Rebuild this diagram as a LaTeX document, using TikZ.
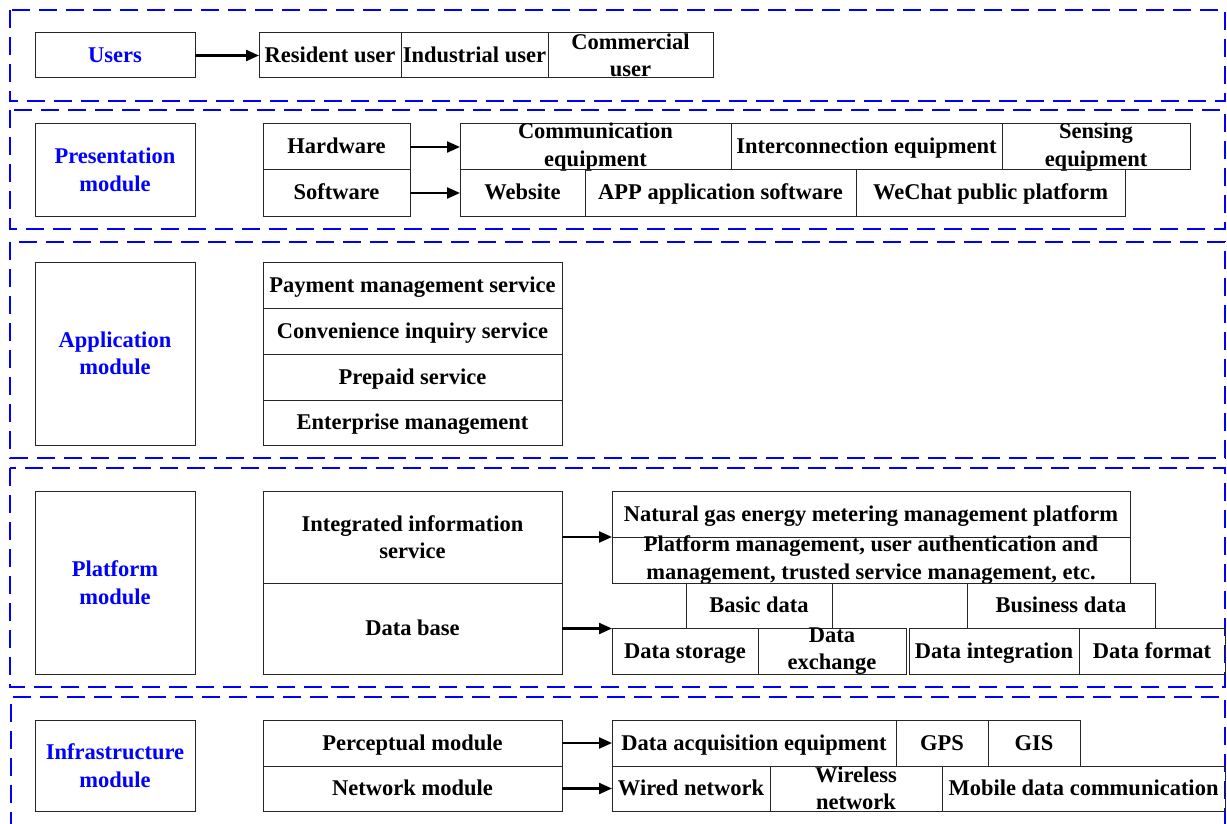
\documentclass[tikz,border=0pt]{standalone}
\usepackage{fontspec}
\setmainfont{Liberation Serif}
\usepackage{tikz}
\usetikzlibrary{arrows.meta}

\begin{document}
\begin{tikzpicture}[x=1pt, y=-1pt,
  every node/.style={outer sep=0pt, inner sep=0pt, align=center, font=\fontsize{22.5}{27.5}\selectfont\bfseries},
  cellml/.style={draw=black!85, line width=1pt, inner ysep=-6pt},
  cell/.style={cellml, text height=16pt, text depth=2pt},
  modbox/.style={cellml, text=blue, minimum width=160pt},
  layer/.style={draw=blue, line width=2.4pt, dash pattern=on 18pt off 9pt},
  link/.style={line width=2.2pt, -{Triangle[length=13pt, width=11pt]}}]
\useasboundingbox[fill=white] (0,0) rectangle (1227,824);

% layers
\draw[layer] (10,10) rectangle (1225,101);
\draw[layer] (10,110) rectangle (1225,229);
\draw[layer] (10,242) rectangle (1225,458);
\draw[layer] (10,468) rectangle (1225,687);
\draw[layer] (11,830) -- (11,697) -- (1225,697) -- (1225,830);

% users
\node[modbox, text height=16pt, text depth=2pt, minimum height=45pt] (users) at (115,55.5) {Users};
\node[cell, minimum width=142pt, minimum height=45pt] (res) at (330,55.5) {Resident user};
\node[cell, minimum width=147pt, minimum height=45pt] (ind) at (474.5,55.5) {Industrial user};
\node[cellml, minimum width=165pt, minimum height=45pt] (com) at (630.5,55.5) {Commercial\\user};

% presentation module
\node[modbox, minimum height=92pt] (pres) at (115,170) {Presentation\\module};
\node[cell, minimum width=147pt, minimum height=46pt] (hw) at (336.5,147) {Hardware};
\node[cell, minimum width=147pt, minimum height=46pt] (sw) at (336.5,193) {Software};
\node[cellml, minimum width=271pt, minimum height=46pt] (commeq) at (595.5,147) {Communication\\equipment};
\node[cell, minimum width=271pt, minimum height=46pt] (intereq) at (866.5,147) {Interconnection equipment};
\node[cellml, minimum width=188pt, minimum height=46pt] (senseq) at (1096,147) {Sensing\\equipment};
\node[cell, minimum width=125pt, minimum height=46pt] (web) at (522.5,193) {Website};
\node[cell, minimum width=271pt, minimum height=46pt] (appsw) at (720.5,193) {APP application software};
\node[cell, minimum width=269pt, minimum height=46pt] (wechat) at (990.5,193) {WeChat public platform};

% application module
\node[modbox, minimum height=183pt] (appl) at (115,353.5) {Application\\module};
\node[cell, minimum width=299pt, minimum height=46pt] (pay) at (412.5,285) {Payment management service};
\node[cell, minimum width=299pt, minimum height=46pt] (inq) at (412.5,331) {Convenience inquiry service};
\node[cell, minimum width=299pt, minimum height=46pt] (prep) at (412.5,377) {Prepaid service};
\node[cell, minimum width=299pt, minimum height=45pt] (ent) at (412.5,422.5) {Enterprise management};

% platform module
\node[modbox, minimum height=183pt] (plat) at (115,582.5) {Platform\\module};
\node[cellml, minimum width=299pt, minimum height=92pt] (integ) at (412.5,537) {Integrated information\\service};
\node[cell, minimum width=299pt, minimum height=91pt] (dbase) at (412.5,628.5) {Data base};
\node[cell, minimum width=518pt, minimum height=46pt] (natgas) at (871,514) {Natural gas energy metering management platform};
\node[cellml, minimum width=518pt, minimum height=46pt] (pmgmt) at (871,560) {Platform management, user authentication and\\management, trusted service management, etc.};
\node[cell, minimum width=146pt, minimum height=45pt] (basic) at (759,605.5) {Basic data};
\node[cell, minimum width=188pt, minimum height=45pt] (busi) at (1061,605.5) {Business data};
\node[cell, minimum width=146pt, minimum height=46pt] (store) at (685,651) {Data storage};
\node[cellml, minimum width=148pt, minimum height=46pt] (exch) at (832,651) {Data\\exchange};
\node[cell, minimum width=170pt, minimum height=46pt] (integr) at (994,651) {Data integration};
\node[cell, minimum width=146pt, minimum height=46pt] (fmt) at (1152,651) {Data format};

% infrastructure module
\node[modbox, minimum height=91pt] (infra) at (115,765.5) {Infrastructure\\module};
\node[cell, minimum width=299pt, minimum height=46pt] (perc) at (412.5,743) {Perceptual module};
\node[cell, minimum width=299pt, minimum height=45pt] (netw) at (412.5,788.5) {Network module};
\node[cell, minimum width=284pt, minimum height=46pt] (acq) at (754,743) {Data acquisition equipment};
\node[cell, minimum width=92pt, minimum height=46pt] (gps) at (942,743) {GPS};
\node[cell, minimum width=92pt, minimum height=46pt] (gis) at (1034,743) {GIS};
\node[cell, minimum width=158pt, minimum height=45pt] (wired) at (691,788.5) {Wired network};
\node[cellml, minimum width=172pt, minimum height=45pt] (wless) at (856,788.5) {Wireless\\network};
\node[cell, minimum width=283pt, minimum height=45pt] (mobile) at (1083.5,788.5) {Mobile data communication};

% arrows
\draw[link] (users.east) -- (res.west);
\draw[link] (hw.east) -- (commeq.west);
\draw[link] (sw.east) -- (web.west);
\draw[link] (integ.east) -- (natgas.south west);
\draw[link] (dbase.east) -- (dbase.east -| store.west);
\draw[link] (perc.east) -- (acq.west);
\draw[link] (netw.east) -- (wired.west);
\end{tikzpicture}
\end{document}
